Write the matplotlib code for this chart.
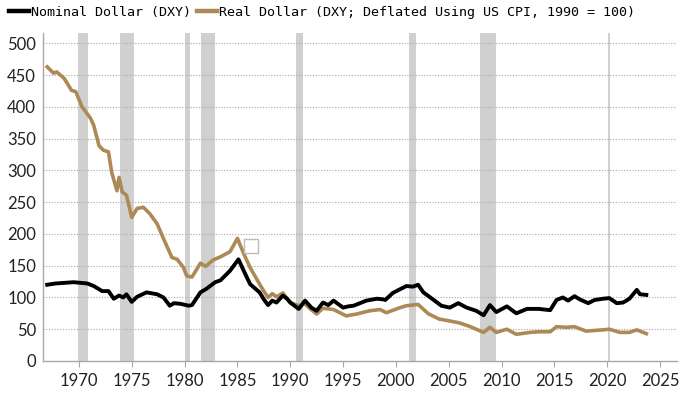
import matplotlib
matplotlib.use("Agg")
import matplotlib.pyplot as plt
from matplotlib.lines import Line2D

# ---- data ----
nominal_years = [1967.0, 1967.8, 1969.5, 1970.8, 1971.4, 1972.2, 1972.8, 1973.3, 1973.8, 1974.2,
                 1974.5, 1975.0, 1975.5, 1976.4, 1977.4, 1978.0, 1978.6, 1979.0, 1979.6, 1980.4, 1980.7,
                 1981.5, 1982.1, 1982.9, 1983.4, 1984.3, 1985.1, 1985.6, 1986.2, 1987.1, 1987.5, 1987.9,
                 1988.3, 1988.7, 1989.3, 1989.7, 1990.0, 1990.8, 1991.4, 1992.0, 1992.5, 1993.1, 1993.6,
                 1994.1, 1995.0, 1995.5,
                 1996.0, 1997.2, 1998.2, 1998.8, 1999.0, 1999.7, 2000.4, 2001.0, 2001.6, 2002.1,
                 2002.6, 2003.5, 2004.3, 2005.1, 2005.9, 2006.7, 2007.6, 2008.3, 2008.9, 2009.5,
                 2010.5, 2011.4, 2012.4, 2013.5, 2014.6, 2015.2, 2015.8, 2016.3, 2016.9, 2017.4,
                 2018.2, 2018.8, 2019.6, 2020.2, 2020.9, 2021.5, 2022.1, 2022.8, 2023.1, 2023.7]
nominal_values = [120, 122, 124, 122, 118, 110, 110, 98, 103, 100,
                  105, 93, 101, 108, 105, 100, 87, 91, 90, 87, 88,
                  108, 114, 124, 127, 142, 160, 142, 121, 108, 97, 88,
                  95, 92, 103, 98, 92, 82, 95, 84, 79, 92, 88,
                  95, 84, 86,
                  87, 95, 98, 97, 96, 107, 113, 118, 117, 120,
                  108, 97, 87, 84, 91, 84, 79, 72, 88, 77,
                  86, 75, 82, 82, 80, 96, 100, 95, 102, 97,
                  91, 96, 98, 99, 91, 92, 98, 112, 105, 104]

real_years = [1967.0, 1967.6, 1967.9, 1968.6, 1969.3, 1969.7, 1970.3, 1971.1, 1971.4, 1971.9,
              1972.3, 1972.8, 1973.1, 1973.6, 1973.8, 1974.1, 1974.5, 1975.0, 1975.5, 1976.1,
              1976.7, 1977.4, 1978.1, 1978.8, 1979.3, 1979.9, 1980.2, 1980.7, 1981.5, 1982.0,
              1982.7, 1983.4, 1984.3, 1985.0, 1985.6, 1986.2, 1987.1, 1987.5, 1987.9, 1988.3,
              1988.7, 1989.3,
              1990.0, 1990.8, 1991.4, 1991.9, 1992.5, 1993.1, 1994.1, 1995.3, 1996.3, 1997.5, 1998.5,
              1999.1, 2000.4, 2001.0, 2002.1, 2003.1, 2004.1, 2005.1, 2006.0, 2006.9, 2008.3,
              2008.9, 2009.5, 2010.5, 2011.4, 2012.7, 2013.5, 2014.6, 2015.2, 2016.1, 2016.9,
              2018.0, 2019.6, 2020.2, 2021.2, 2022.1, 2022.8, 2023.7]
real_values = [463, 453, 455, 445, 426, 424, 400, 382, 371, 339,
               332, 329, 297, 268, 289, 266, 261, 226, 240, 242,
               232, 216, 189, 163, 160, 147, 134, 132, 154, 149,
               159, 164, 172, 193, 169, 147, 121, 110, 100, 106,
               101, 107,
               92, 87, 90, 82, 74, 83, 81, 71, 74, 79, 81,
               76, 84, 87, 89, 74, 66, 63, 60, 55, 45,
               53, 45, 50, 42, 45, 46, 46, 54, 53, 54,
               47, 49, 50, 45, 45, 49, 43]

recession_starts = [1969.9, 1973.85, 1980.05, 1981.55, 1990.55, 2001.2, 2007.95, 2020.1]
recession_ends = [1970.85, 1975.2, 1980.5, 1982.9, 1991.2, 2001.9, 2009.45, 2020.3]

marker_x = [1986.25]
marker_y = [181]

x_ticks = [1970, 1975, 1980, 1985, 1990, 1995, 2000, 2005, 2010, 2015, 2020, 2025]
y_ticks = [0, 50, 100, 150, 200, 250, 300, 350, 400, 450, 500]

nominal_label = "Nominal Dollar (DXY)"
real_label = "Real Dollar (DXY; Deflated Using US CPI, 1990 = 100)"

# ---- style ----
BLACK = "#000000"
TAN = "#AD8A55"
BAND = "#D0D0D0"
GRID = "#A8A8A8"
SPINE = "#A8A8A8"

fig = plt.figure(figsize=(7.0, 3.94), dpi=100)
ax = fig.add_axes([0.0614, 0.0838, 0.9057, 0.832])

for s, e in zip(recession_starts, recession_ends):
    ax.axvspan(s, e, color=BAND, lw=0, zorder=0)

for yv in y_ticks[1:]:
    ax.axhline(yv, color=GRID, lw=0.8, ls=(0, (1, 1.5)), zorder=1)

ax.plot(real_years, real_values, color=TAN, lw=2.6, zorder=3, solid_joinstyle="round")
ax.plot(nominal_years, nominal_values, color=BLACK, lw=2.8, zorder=4, solid_joinstyle="round")

ax.scatter(marker_x, marker_y, marker="s", s=90, facecolors="white",
           edgecolors="#BBBBBB", linewidths=1.0, zorder=5)

ax.set_xlim(1966.6, 2026.6)
ax.set_ylim(0, 516)
ax.set_xticks(x_ticks)
ax.set_yticks(y_ticks)
ax.set_xticklabels([str(t) for t in x_ticks], fontfamily="Lato", fontsize=12, color="#222222")
ax.set_yticklabels([str(t) for t in y_ticks], fontfamily="Lato", fontsize=12, color="#222222")
ax.tick_params(axis="x", direction="out", length=4, width=0.8, color=SPINE, pad=5)
ax.tick_params(axis="y", length=0, pad=5)

for side in ["top", "right"]:
    ax.spines[side].set_visible(False)
for side in ["left", "bottom"]:
    ax.spines[side].set_color(SPINE)
    ax.spines[side].set_linewidth(1.0)

# legend at the top
handles = [Line2D([0], [0], color=BLACK, lw=3.2), Line2D([0], [0], color=TAN, lw=3.2)]
fig.legend(handles, [nominal_label, real_label], loc="upper left",
           bbox_to_anchor=(9 / 700, 1 - 6 / 394), ncol=2, frameon=False,
           prop={"family": "DejaVu Sans Mono", "size": 9.6},
           handlelength=1.5, handletextpad=0.15, columnspacing=0.45,
           borderaxespad=0.0, borderpad=0.0)

fig.savefig("out.png", dpi=100, facecolor="white")
